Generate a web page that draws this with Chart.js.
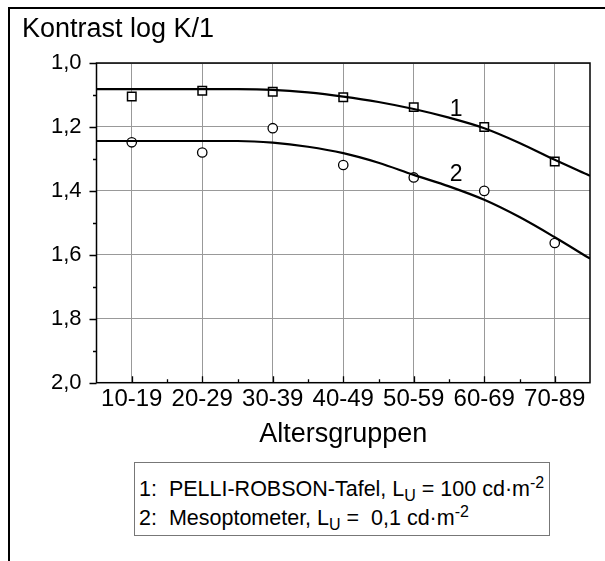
<!DOCTYPE html>
<html lang="de">
<head>
  <meta charset="UTF-8">
  <title>Kontrast nach Altersgruppen</title>
  <script src="https://cdn.jsdelivr.net/npm/chart.js"></script>
  <style>
    html, body {
      margin: 0;
      padding: 0;
      background: #fff;
    }

    .page {
      position: relative;
      width: 605px;
      height: 561px;
      overflow: hidden;
      font-family: 'Liberation Sans', Arial, sans-serif;
      color: #000;
    }

    /* outer frame: only top and left edges */
    .frame {
      position: absolute;
      left: 8px;
      top: 7px;
      width: 620px;
      height: 600px;
      border-top: 2px solid #000;
      border-left: 2px solid #000;
    }

    canvas#chart {
      position: absolute;
      left: 0;
      top: 0;
    }

    .legend-box {
      position: absolute;
      left: 134px;
      top: 462px;
      width: 414px;
      height: 72px;
      border: 1px solid #777;
      background: #fff;
    }

    .legend-box .row {
      position: absolute;
      left: 4px;
      font-size: 21.5px;
      line-height: 21px;
      white-space: nowrap;
    }

    .legend-box sub, .legend-box sup {
      font-size: 16px;
      line-height: 0;
    }
  </style>
</head>
<body>
  <div class="page">
    <div class="frame"></div>
    <canvas id="chart" width="605" height="561"></canvas>
    <div class="legend-box">
      <div class="row" style="top: 16px;">1:&nbsp; PELLI-ROBSON-Tafel, L<sub>U</sub> = 100 cd·m<sup>-2</sup></div>
      <div class="row" style="top: 45px;">2:&nbsp; Mesoptometer, L<sub>U</sub> = &nbsp;0,1 cd·m<sup>-2</sup></div>
    </div>
  </div>

  <script>
    // age groups on the x axis
    const groups = ['10-19', '20-29', '30-39', '40-49', '50-59', '60-69', '70-89'];

    // measured contrast thresholds (log K/1)
    const pelliRobson = [1.105, 1.087, 1.090, 1.107, 1.138, 1.200, 1.308];
    const mesoptometer = [1.248, 1.280, 1.204, 1.319, 1.358, 1.400, 1.563];

    // fitted curves, sampled along the group axis
    const fitPos = [-0.5, 0, 0.5, 1, 1.5, 2, 2.5, 3, 3.5, 4, 4.5, 5, 5.5, 6, 6.5];
    const fitPelli = [1.082, 1.082, 1.082, 1.082, 1.082, 1.084, 1.092, 1.105, 1.122, 1.144, 1.171, 1.204, 1.250, 1.303, 1.353];
    const fitMeso = [1.244, 1.244, 1.244, 1.244, 1.244, 1.249, 1.262, 1.282, 1.312, 1.350, 1.386, 1.428, 1.482, 1.545, 1.612];

    // y tick values (labels only on the even steps)
    const yTicks = [1.0, 1.1, 1.2, 1.3, 1.4, 1.5, 1.6, 1.7, 1.8, 1.9, 2.0];

    const FONT = "'Liberation Sans', Arial, sans-serif";

    const toPoints = (xs, ys) => xs.map((x, i) => ({ x: x, y: ys[i] }));
    const groupPoints = ys => ys.map((y, i) => ({ x: i, y: y }));

    const isMajor = v => Math.round(v * 10) % 2 === 0;

    // tick marks, plot frame, axis caption and curve numbers
    const decorations = {
      id: 'decorations',
      afterDatasetsDraw(chart) {
        const ctx = chart.ctx;
        const area = chart.chartArea;
        const xs = chart.scales.x;
        const ys = chart.scales.y;
        ctx.save();

        ctx.strokeStyle = '#000';
        ctx.lineWidth = 1.5;
        ctx.strokeRect(area.left, area.top, area.right - area.left, area.bottom - area.top);

        // y ticks point outwards
        ctx.lineWidth = 1.3;
        ctx.beginPath();
        yTicks.forEach(v => {
          const py = Math.round(ys.getPixelForValue(v)) + 0.5;
          const len = isMajor(v) ? 7 : 3.5;
          ctx.moveTo(area.left, py);
          ctx.lineTo(area.left - len, py);
        });
        // x ticks point inwards
        groups.forEach((g, i) => {
          const px = Math.round(xs.getPixelForValue(i)) + 0.5;
          ctx.moveTo(px, area.bottom);
          ctx.lineTo(px, area.bottom - 6.5);
          if (i < groups.length - 1) {
            const mx = Math.round(xs.getPixelForValue(i + 0.5)) + 0.5;
            ctx.moveTo(mx, area.bottom);
            ctx.lineTo(mx, area.bottom - 3.5);
          }
        });
        ctx.stroke();

        ctx.fillStyle = '#000';
        ctx.textBaseline = 'alphabetic';
        ctx.textAlign = 'left';
        ctx.font = '27px ' + FONT;
        ctx.fillText('Kontrast log K/1', 22, 36.5);

        ctx.textAlign = 'center';
        ctx.font = '23px ' + FONT;
        ctx.fillText('1', xs.getPixelForValue(4.6), ys.getPixelForValue(1.166));
        ctx.fillText('2', xs.getPixelForValue(4.6), ys.getPixelForValue(1.368));
        ctx.restore();
      }
    };

    new Chart(document.getElementById('chart'), {
      type: 'scatter',
      data: {
        datasets: [
          {
            label: 'Fit 1',
            type: 'line',
            data: toPoints(fitPos, fitPelli),
            borderColor: '#000',
            borderWidth: 2.2,
            pointRadius: 0,
            fill: false,
            cubicInterpolationMode: 'monotone'
          },
          {
            label: 'Fit 2',
            type: 'line',
            data: toPoints(fitPos, fitMeso),
            borderColor: '#000',
            borderWidth: 2.2,
            pointRadius: 0,
            fill: false,
            cubicInterpolationMode: 'monotone'
          },
          {
            label: 'PELLI-ROBSON-Tafel',
            data: groupPoints(pelliRobson),
            pointStyle: 'rect',
            pointRadius: 6,
            pointBorderWidth: 1.5,
            pointBorderColor: '#000',
            pointBackgroundColor: '#fff'
          },
          {
            label: 'Mesoptometer',
            data: groupPoints(mesoptometer),
            pointStyle: 'circle',
            pointRadius: 4.7,
            pointBorderWidth: 1.3,
            pointBorderColor: '#000',
            pointBackgroundColor: '#fff'
          }
        ]
      },
      options: {
        responsive: false,
        animation: false,
        events: [],
        layout: {
          padding: { left: 36.5, right: 15, top: 63, bottom: 108.3 }
        },
        plugins: {
          legend: { display: false },
          tooltip: { enabled: false }
        },
        scales: {
          x: {
            type: 'linear',
            min: -0.5,
            max: 6.5,
            afterBuildTicks: scale => {
              scale.ticks = groups.map((g, i) => ({ value: i }));
            },
            afterFit: scale => { scale.height = 70; },
            ticks: {
              padding: 2,
              color: '#000',
              font: { family: FONT, size: 24 },
              callback: v => groups[v]
            },
            grid: {
              color: '#999',
              lineWidth: 1,
              drawTicks: false
            },
            border: { display: false },
            title: {
              display: true,
              text: 'Altersgruppen',
              color: '#000',
              font: { family: FONT, size: 27 },
              padding: { top: 0, bottom: 1.5 }
            }
          },
          y: {
            reverse: true,
            min: 1.0,
            max: 2.0,
            afterBuildTicks: scale => {
              scale.ticks = yTicks.map(v => ({ value: v }));
            },
            afterFit: scale => { scale.width = 60; },
            ticks: {
              padding: 15,
              color: '#000',
              font: { family: FONT, size: 22 },
              callback: v => isMajor(v) ? v.toFixed(1).replace('.', ',') : ''
            },
            grid: {
              color: ctx => (ctx.tick && isMajor(ctx.tick.value)) ? '#999' : 'rgba(0,0,0,0)',
              lineWidth: 1,
              drawTicks: false
            },
            border: { display: false }
          }
        }
      },
      plugins: [decorations]
    });
  </script>
</body>
</html>
